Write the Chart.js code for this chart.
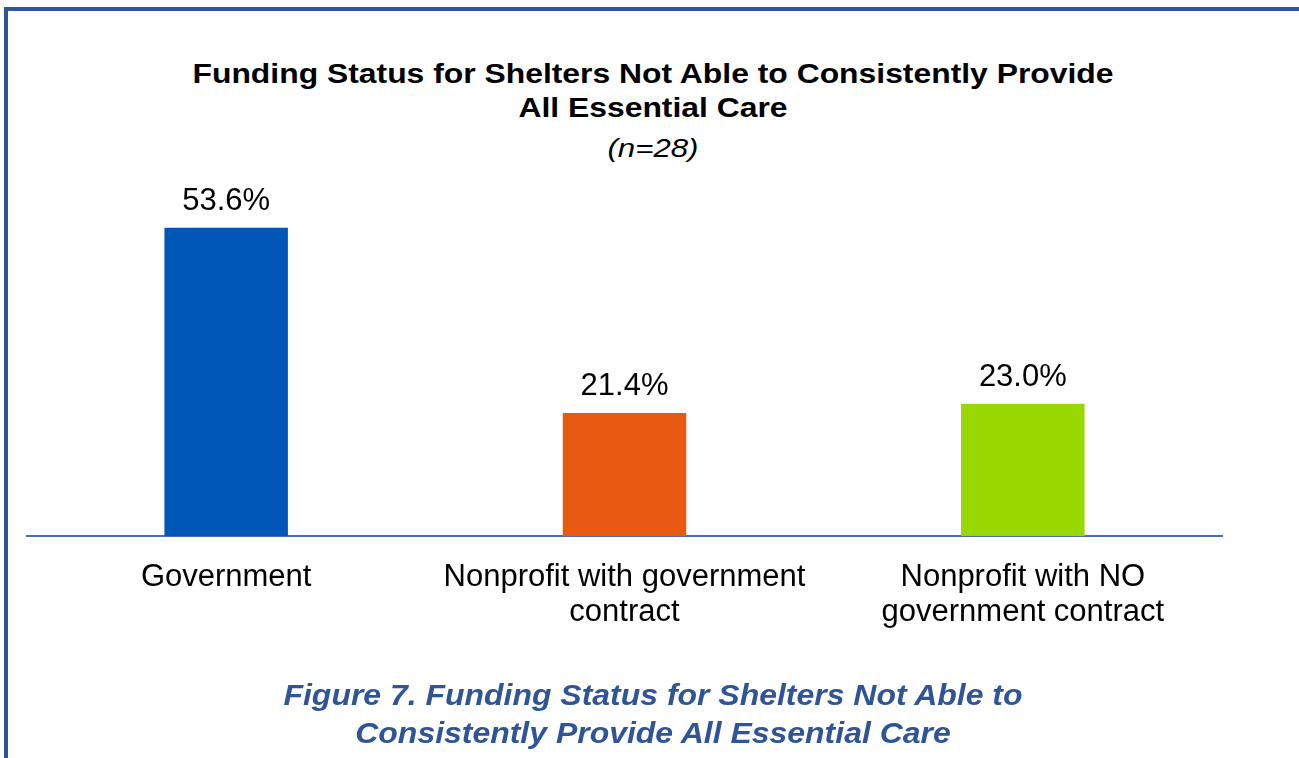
<!DOCTYPE html>
<html>
<head>
<meta charset="utf-8">
<script src="https://cdn.jsdelivr.net/npm/chart.js@4.4.1/dist/chart.umd.min.js"></script>
<style>
  body { margin:0; background:#fff; font-family:"Liberation Sans", Arial, sans-serif; }
  #page { position:relative; width:1299px; height:758px; overflow:hidden; }
  #frame { position:absolute; left:4px; top:7px; width:1400px; height:800px;
           border-left:4px solid #2F5597; border-top:4px solid #2F5597; }
  .wide { position:absolute; left:0; width:1306px; text-align:center; transform-origin:653px 0; }
  #title { top:57px; font-weight:bold; font-size:27px; line-height:34px; color:#000; transform:scaleX(1.18); }
  #sub { top:133px; font-style:italic; font-size:26px; line-height:30px; color:#000; transform:scaleX(1.2); }
  #caption { top:676px; font-weight:bold; font-style:italic; font-size:30px; line-height:38px; color:#2F5597; transform:scaleX(1.065); }
  canvas { position:absolute; left:0; top:0; }
</style>
</head>
<body>
<div id="page">
  <div id="frame"></div>
  <div id="title" class="wide">Funding Status for Shelters Not Able to Consistently Provide<br>All Essential Care</div>
  <div id="sub" class="wide">(n=28)</div>
  <canvas id="fundingChart" width="1299" height="758"></canvas>
  <div id="caption" class="wide">Figure 7. Funding Status for Shelters Not Able to<br>Consistently Provide All Essential Care</div>
</div>
<script>
var categories = [
    ["Government"],
    ["Nonprofit with government", "contract"],
    ["Nonprofit with NO", "government contract"]
];
var percentValues = [53.6, 21.4, 23.0];
var barColors = ["#0057B8", "#E85A12", "#99D700"];

// draw the % labels above each bar
var barLabels = {
    id: 'barLabels',
    afterDatasetsDraw: function(chart){
        var ctx = chart.ctx;
        var meta = chart.getDatasetMeta(0);
        ctx.save();
        ctx.font = '31px "Liberation Sans", Arial, sans-serif';
        ctx.fillStyle = '#000';
        ctx.textAlign = 'center';
        ctx.textBaseline = 'alphabetic';
        meta.data.forEach(function(bar, i){
            ctx.fillText(percentValues[i].toFixed(1) + '%', bar.x, bar.y - 18);
        });
        ctx.restore();
    }
};

var target = document.getElementById("fundingChart");
var fundingChart = new Chart(target, {
    type: 'bar',
    data: {
        labels: categories,
        datasets: [{
            data: percentValues,
            backgroundColor: barColors,
            borderWidth: 0,
            categoryPercentage: 1,
            barPercentage: 0.31
        }]
    },
    options: {
        responsive: false,
        animation: false,
        layout: { padding: { left: 27, right: 77, top: 191, bottom: 122 } },
        plugins: {
            legend: { display: false },
            tooltip: { enabled: false }
        },
        scales: {
            x: {
                grid: { display: false },
                border: { display: true, color: '#4A6FAA', width: 2 },
                ticks: {
                    color: '#000',
                    padding: 16,
                    maxRotation: 0,
                    autoSkip: false,
                    font: { family: '"Liberation Sans", Arial, sans-serif', size: 31, lineHeight: 1.13 }
                },
                afterFit: function(scale){ scale.height = 100; }
            },
            y: {
                display: false,
                min: 0,
                max: 60
            }
        }
    },
    plugins: [barLabels]
});
</script>
</body>
</html>
